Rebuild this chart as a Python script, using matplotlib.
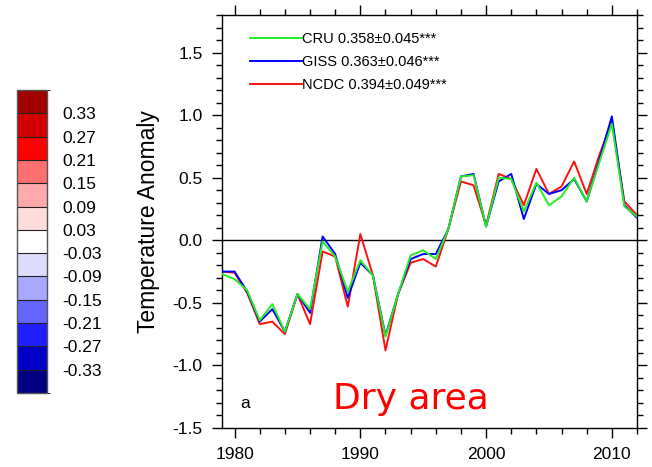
import matplotlib
matplotlib.use("Agg")
import matplotlib.pyplot as plt
import numpy as np
from matplotlib.colors import ListedColormap, BoundaryNorm
from matplotlib.ticker import MultipleLocator
import matplotlib as mpl

plt.rcParams['font.family'] = ['Liberation Sans', 'DejaVu Sans']

years = list(range(1979, 2013))
cru = [-0.27, -0.31, -0.40, -0.64, -0.51, -0.73, -0.43, -0.55, -0.01, -0.13,
       -0.41, -0.16, -0.28, -0.77, -0.43, -0.12, -0.08, -0.15, 0.09, 0.51,
       0.52, 0.11, 0.50, 0.49, 0.23, 0.46, 0.28, 0.35, 0.50, 0.31,
       0.62, 0.93, 0.27, 0.19]
giss = [-0.25, -0.25, -0.41, -0.65, -0.55, -0.73, -0.43, -0.58, 0.03, -0.11,
        -0.46, -0.18, -0.28, -0.76, -0.43, -0.15, -0.11, -0.11, 0.09, 0.51,
        0.53, 0.11, 0.47, 0.53, 0.17, 0.45, 0.37, 0.40, 0.49, 0.31,
        0.64, 0.99, 0.28, 0.18]
ncdc = [-0.25, -0.26, -0.42, -0.67, -0.65, -0.75, -0.43, -0.67, -0.09, -0.13,
        -0.53, 0.05, -0.28, -0.88, -0.43, -0.18, -0.15, -0.21, 0.09, 0.47,
        0.44, 0.12, 0.53, 0.49, 0.28, 0.57, 0.37, 0.43, 0.63, 0.37,
        0.68, 0.95, 0.31, 0.20]
labels = ["CRU 0.358\u00b10.045***", "GISS 0.363\u00b10.046***", "NCDC 0.394\u00b10.049***"]

cbar_bounds = [-0.39, -0.33, -0.27, -0.21, -0.15, -0.09, -0.03, 0.03, 0.09, 0.15, 0.21, 0.27, 0.33, 0.39]
cbar_ticks = [-0.33, -0.27, -0.21, -0.15, -0.09, -0.03, 0.03, 0.09, 0.15, 0.21, 0.27, 0.33]
cbar_colors = ["#000080", "#0000C8", "#1E1EFF", "#6464FF", "#A8A8FF", "#DCDCFF", "#FFFFFF",
               "#FFDCDC", "#FFAAAA", "#FF7070", "#FF0000", "#D20000", "#A00000"]

fig = plt.figure(figsize=(6.52, 4.67), dpi=100)

# main axes
ax = fig.add_axes([0.3405, 0.0835, 0.6365, 0.8844])
ax.axhline(0, color='black', lw=1.0, zorder=1)
ax.plot(years, ncdc, color='#FF1010', lw=1.4, label=labels[2], zorder=2)
ax.plot(years, giss, color='#0000FF', lw=1.4, label=labels[1], zorder=3)
ax.plot(years, cru, color='#22EE22', lw=1.4, label=labels[0], zorder=4)
ax.set_xlim(1979, 2012)
ax.set_ylim(-1.5, 1.8)
ax.xaxis.set_major_locator(MultipleLocator(10))
ax.xaxis.set_minor_locator(MultipleLocator(2))
ax.yaxis.set_minor_locator(MultipleLocator(0.1))
ax.set_yticks([-1.5, -1.0, -0.5, 0.0, 0.5, 1.0, 1.5])
ax.set_yticklabels(["-1.5", "-1.0", "-0.5", "0.0", "0.5", "1.0", "1.5"])
ax.tick_params(which='both', direction='out', top=True, right=True,
               labeltop=False, labelright=False, width=1.0, colors='black')
ax.tick_params(which='major', length=7, labelsize=12.5)
ax.tick_params(axis='y', which='major', pad=7)
ax.tick_params(axis='x', which='major', pad=7)
ax.tick_params(which='minor', length=4.5)
for s in ax.spines.values():
    s.set_linewidth(1.0)
ax.set_ylabel("Temperature Anomaly", fontsize=16.5, labelpad=9)

h, l = ax.get_legend_handles_labels()
order = [2, 1, 0]
ax.legend([h[i] for i in order], [l[i] for i in order], loc='upper left',
          bbox_to_anchor=(0.035, 0.99), frameon=False, fontsize=10.5,
          handlelength=3.6, handletextpad=0.0, labelspacing=0.6)

ax.text(0.045, 0.06, "a", transform=ax.transAxes, fontsize=12.5, ha='left', va='center')
ax.text(0.455, 0.07, "Dry area", transform=ax.transAxes, fontsize=26, color='#FF0000',
        ha='center', va='center', family=['DejaVu Sans'])

# colorbar
cax = fig.add_axes([0.026, 0.1585, 0.046, 0.6488])
cmap = ListedColormap(cbar_colors)
norm = BoundaryNorm(cbar_bounds, cmap.N)
cb = mpl.colorbar.ColorbarBase(cax, cmap=cmap, norm=norm, boundaries=cbar_bounds,
                               ticks=cbar_ticks, drawedges=True, orientation='vertical')
cb.set_ticklabels(["%.2f" % t for t in cbar_ticks])
cb.outline.set_linewidth(1.0)
cb.outline.set_edgecolor('#555555')
cb.dividers.set_color('#222222')
cb.dividers.set_linewidth(0.8)
cax.tick_params(length=0, labelsize=12.5, pad=11)

fig.savefig("out.png", dpi=100)
